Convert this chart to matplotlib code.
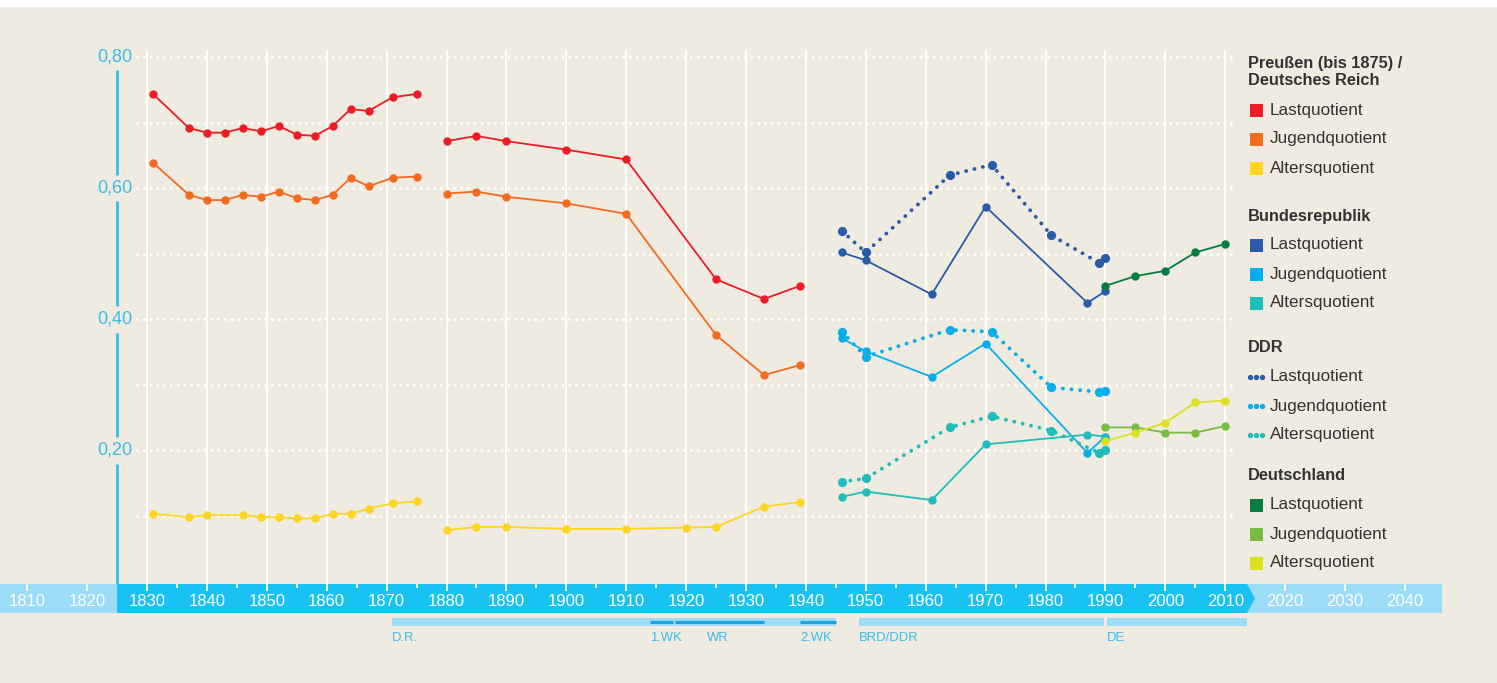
import matplotlib.pyplot as plt
from matplotlib import transforms
from matplotlib.patches import Rectangle, Polygon

W, H = 1497, 683
BG = '#efebe1'
BAND = '#19c2f2'
BAND_LIGHT = '#9ddcf7'
AXC = '#3bbbea'
FONT = 'Liberation Sans'

# Preußen (bis 1875)
pr_years = [1831, 1837, 1840, 1843, 1846, 1849, 1852, 1855, 1858, 1861, 1864, 1867, 1871, 1875]
pr_last = [0.744, 0.692, 0.685, 0.685, 0.692, 0.687, 0.695, 0.682, 0.680, 0.695, 0.721, 0.718, 0.739, 0.744]
pr_jugend = [0.639, 0.590, 0.582, 0.582, 0.590, 0.587, 0.595, 0.585, 0.582, 0.590, 0.616, 0.603, 0.616, 0.618]
pr_alt_years = [1831, 1837, 1840, 1846, 1849, 1852, 1855, 1858, 1861, 1864, 1867, 1871, 1875]
pr_alter = [0.103, 0.098, 0.101, 0.101, 0.098, 0.098, 0.096, 0.096, 0.103, 0.103, 0.111, 0.119, 0.122]

# Deutsches Reich
dr_years = [1880, 1885, 1890, 1900, 1910, 1925, 1933, 1939]
dr_last = [0.672, 0.680, 0.672, 0.659, 0.644, 0.461, 0.431, 0.451]
dr_jugend = [0.592, 0.595, 0.587, 0.577, 0.561, 0.376, 0.315, 0.330]
dr_alt_years = [1880, 1885, 1890, 1900, 1910, 1920, 1925, 1933, 1939]
dr_alter = [0.078, 0.083, 0.083, 0.080, 0.080, 0.082, 0.083, 0.114, 0.121]

# Bundesrepublik
brd_years = [1946, 1950, 1961, 1970, 1987, 1990]
brd_last = [0.502, 0.490, 0.438, 0.572, 0.425, 0.443]
brd_jugend = [0.371, 0.351, 0.312, 0.363, 0.196, 0.221]
brd_alter = [0.129, 0.137, 0.124, 0.209, 0.224, 0.221]

# DDR
ddr_years = [1946, 1950, 1964, 1971, 1981, 1989, 1990]
ddr_last = [0.535, 0.502, 0.620, 0.636, 0.528, 0.486, 0.494]
ddr_jugend = [0.381, 0.343, 0.384, 0.381, 0.296, 0.289, 0.291]
ddr_alter = [0.152, 0.157, 0.235, 0.252, 0.230, 0.196, 0.201]

# Deutschland
de_years = [1990, 1995, 2000, 2005, 2010]
de_last = [0.451, 0.466, 0.474, 0.502, 0.515]
de_jugend = [0.235, 0.235, 0.227, 0.227, 0.237]
de_alter = [0.214, 0.227, 0.242, 0.273, 0.276]

yticks = [0.2, 0.4, 0.6, 0.8]
ytick_labels = ['0,20', '0,40', '0,60', '0,80']
band_years = list(range(1810, 2041, 10))

# pixel mapping of the original layout
X0, XS = 147, 5.99      # pixel of 1830, pixels per year
Y0, YS = 57.3, 655      # pixel of 0.80, pixels per unit

fig = plt.figure(figsize=(W / 100, H / 100), dpi=100, facecolor=BG)
deco = fig.add_axes([0, 0, 1, 1])
deco.set_xlim(0, W)
deco.set_ylim(H, 0)
deco.axis('off')
deco.set_facecolor(BG)

ax = fig.add_axes([0, 0, 1, 1], zorder=2)
ax.patch.set_alpha(0)
ax.axis('off')
ax.set_xlim(1830 - X0 / XS, 1830 + (W - X0) / XS)
ax.set_ylim(0.8 - (H - Y0) / YS, 0.8 + Y0 / YS)

xdata_ypix = transforms.blended_transform_factory(ax.transData, deco.transData)
xpix_ydata = transforms.blended_transform_factory(deco.transData, ax.transData)

# white strip at top
deco.add_patch(Rectangle((0, 0), W, 6, color='white', zorder=0))

# grid
ax.vlines(range(1830, 2011, 10), 50, 584, transform=xdata_ypix, color='white', lw=1.3, zorder=1)
ax.hlines([0.1, 0.2, 0.3, 0.4, 0.5, 0.6, 0.7, 0.8], 137, 1232, transform=xpix_ydata,
          color='white', lw=2.2, linestyles=[(0, (0.01, 2.2))], capstyle='round', zorder=1)

# y axis line with gaps at labels and labels
segs = [(70, 175), (201, 306), (333, 437), (464, 584)]
for a, b in segs:
    deco.plot([117, 117], [a, b], color=AXC, lw=2, solid_capstyle='butt', zorder=1)
for v, lab in zip(yticks, ytick_labels):
    ax.text(132, v, lab, transform=xpix_ydata, ha='right', va='center', color=AXC,
            fontsize=13, family=FONT)

# time band
deco.add_patch(Rectangle((0, 584), 117, 29, color=BAND_LIGHT, lw=0, zorder=1))
deco.add_patch(Rectangle((1243, 584), 199, 29, color=BAND_LIGHT, lw=0, zorder=1))
deco.add_patch(Polygon([(117, 584), (1247, 584), (1255, 598.5), (1247, 613), (117, 613)],
                       closed=True, color=BAND, lw=0, zorder=2))
ax.vlines(band_years, 584, 591, transform=xdata_ypix, color='white', lw=1.3, zorder=3)
ax.vlines(range(1835, 2010, 10), 584, 588, transform=xdata_ypix, color='white', lw=1.3, zorder=3)
for yr in band_years:
    ax.text(yr, 601.5, str(yr), transform=xdata_ypix, ha='center', va='center', color='white',
            fontsize=12, family=FONT, zorder=4)

# periods
for x1, x2 in [(392, 836), (859, 1104), (1107, 1247)]:
    deco.add_patch(Rectangle((x1, 618), x2 - x1, 8, color=BAND_LIGHT, lw=0, zorder=1))
for x1, x2 in [(650, 673), (675, 764), (800, 836)]:
    deco.plot([x1, x2], [621.8, 621.8], color='#1aa3df', lw=2.2, solid_capstyle='butt', zorder=2)
for x, lab in [(392, 'D.R.'), (650, '1.WK'), (707, 'WR'), (800, '2.WK'), (859, 'BRD/DDR'), (1107, 'DE')]:
    deco.text(x, 638, lab, ha='left', va='center', color=AXC, fontsize=9.4, family=FONT)

# data lines
def solid(xs, ys, c):
    ax.plot(xs, ys, color=c, lw=1.3, marker='o', ms=5, mec=c, mfc=c, zorder=5)

def dotted(xs, ys, c):
    ax.plot(xs, ys, color=c, lw=2.8, linestyle=(0, (0.01, 2.2)), dash_capstyle='round', zorder=5)
    ax.plot(xs, ys, linestyle='none', marker='o', ms=5.6, mec=c, mfc=c, zorder=6)

RED, ORANGE, YELLOW = '#ec1c24', '#f36b21', '#fed520'
BLUE, LBLUE, TEAL = '#2a5ba9', '#08aeec', '#20bdbb'
DGREEN, GREEN, LIME = '#067c44', '#77bd43', '#dbe01f'

solid(pr_years, pr_last, RED)
solid(pr_years, pr_jugend, ORANGE)
solid(pr_alt_years, pr_alter, YELLOW)
solid(dr_years, dr_last, RED)
solid(dr_years, dr_jugend, ORANGE)
solid(dr_alt_years, dr_alter, YELLOW)
solid(brd_years, brd_last, BLUE)
solid(brd_years, brd_jugend, LBLUE)
solid(brd_years, brd_alter, TEAL)
dotted(ddr_years, ddr_last, BLUE)
dotted(ddr_years, ddr_jugend, LBLUE)
dotted(ddr_years, ddr_alter, TEAL)
solid(de_years, de_last, DGREEN)
solid(de_years, de_jugend, GREEN)
solid(de_years, de_alter, LIME)

# legend
TXT = '#333333'
def head(y, s):
    deco.text(1248, y, s, ha='left', va='center', fontsize=11.8, fontweight='bold', color=TXT,
              family=FONT, linespacing=1.2)

def item(y, c, s, dots=False):
    if dots:
        deco.plot([1250, 1256, 1262], [y, y, y], linestyle='none', marker='o', ms=2.8, color=c)
    else:
        deco.add_patch(Rectangle((1250, y - 6.5), 13, 13, color=c, lw=0))
    deco.text(1270, y, s, ha='left', va='center', fontsize=12.3, color=TXT, family=FONT)

head(72, 'Preußen (bis 1875) /\nDeutsches Reich')
item(110, RED, 'Lastquotient')
item(139, ORANGE, 'Jugendquotient')
item(168, YELLOW, 'Altersquotient')
head(216, 'Bundesrepublik')
item(245, BLUE, 'Lastquotient')
item(274, LBLUE, 'Jugendquotient')
item(303, TEAL, 'Altersquotient')
head(348, 'DDR')
item(377, BLUE, 'Lastquotient', dots=True)
item(406, LBLUE, 'Jugendquotient', dots=True)
item(435, TEAL, 'Altersquotient', dots=True)
head(476, 'Deutschland')
item(505, DGREEN, 'Lastquotient')
item(534, GREEN, 'Jugendquotient')
item(563, LIME, 'Altersquotient')

fig.savefig('out.png', dpi=100, facecolor=BG)
